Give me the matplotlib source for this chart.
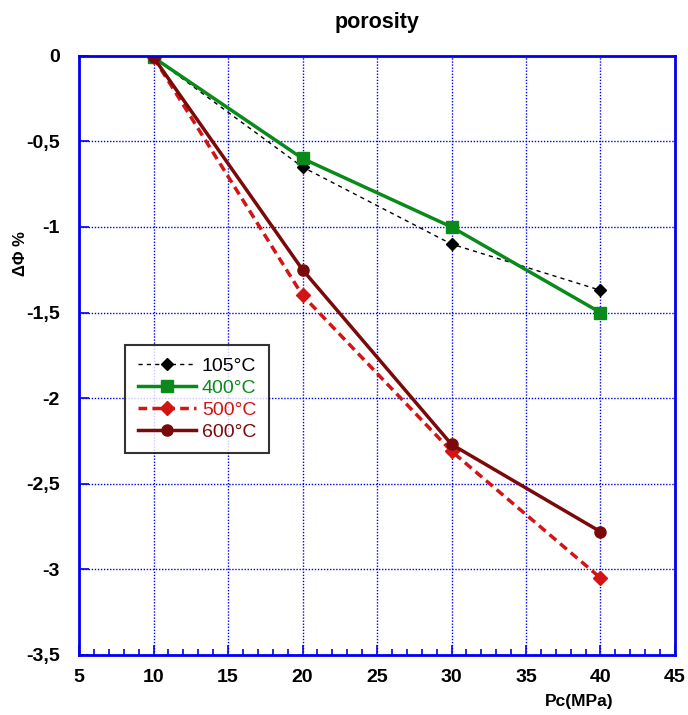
import numpy as np
import matplotlib.pyplot as plt
from matplotlib.ticker import MultipleLocator, FuncFormatter

plt.rcParams['font.family'] = ['Liberation Sans', 'DejaVu Sans']

pc = [10, 20, 30, 40]
t105 = [-0.01, -0.65, -1.10, -1.37]
t400 = [-0.01, -0.60, -1.00, -1.50]
t500 = [-0.01, -1.40, -2.31, -3.05]
t600 = [-0.01, -1.25, -2.27, -2.78]
labels = ["105°C", "400°C", "500°C", "600°C"]

blue = '#0000ee'
fig = plt.figure(figsize=(6.88, 7.15), dpi=100)
ax = fig.add_axes([0.115, 0.084, 0.866, 0.838])

ax.plot(pc, t105, color='black', ls=(0, (3, 3)), lw=1, marker='D', ms=6, label=labels[0])
ax.plot(pc, t400, color='#0a8a1a', ls='-', lw=2.5, marker='s', ms=8, label=labels[1])
ax.plot(pc, t500, color='#d41414', ls=(0, (2.5, 1.5)), lw=2.5, marker='D', ms=7, label=labels[2])
ax.plot(pc, t600, color='#7a0a0a', ls='-', lw=2.5, marker='o', ms=8, label=labels[3])

ax.set_xlim(5, 45)
ax.set_ylim(-3.5, 0)
ax.xaxis.set_major_locator(MultipleLocator(5))
ax.xaxis.set_minor_locator(MultipleLocator(1))
ax.yaxis.set_major_locator(MultipleLocator(0.5))
fmt = FuncFormatter(lambda v, p: ('%g' % v).replace('.', ','))
ax.yaxis.set_major_formatter(fmt)

ax.grid(True, which='major', color=blue, ls=(0, (1, 1.2)), lw=1)
for s in ax.spines.values():
    s.set_color(blue)
    s.set_linewidth(2)
ax.tick_params(which='both', direction='in', color=blue, labelsize=14, width=1.2)
ax.tick_params(which='major', length=7, pad=10)
ax.tick_params(axis='y', which='major', pad=14)
ax.tick_params(which='minor', length=4)
ax.tick_params(axis='y', which='minor', left=False)
for lab in ax.get_xticklabels() + ax.get_yticklabels():
    lab.set_fontweight('bold')

ax.set_title('porosity', fontsize=15.5, fontweight='bold', pad=20)
ax.set_ylabel('ΔΦ %', fontsize=12, fontweight='bold')
ax.yaxis.set_label_coords(-0.085, 0.67)
ax.set_xlabel('Pc(MPa)', fontsize=12.5, fontweight='bold')
ax.xaxis.set_label_coords(0.84, -0.065)

leg = ax.legend(loc='upper left', bbox_to_anchor=(0.077, 0.5175), fontsize=14,
                frameon=True, fancybox=False, edgecolor='black', handlelength=3.0,
                handletextpad=0.3, labelspacing=0.22, borderpad=0.65, borderaxespad=0)
leg.get_frame().set_linewidth(1.5)
for txt, line in zip(leg.get_texts(), leg.get_lines()):
    txt.set_color(line.get_color())

fig.savefig('out.png', dpi=100)
